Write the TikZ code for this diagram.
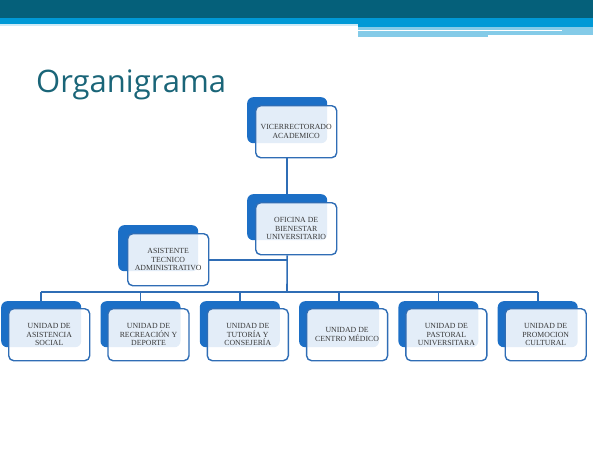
\documentclass[tikz,border=0pt]{standalone}
\usepackage{fontspec}
\setmainfont{Liberation Serif}
\newfontfamily\titlefont{Open Sans}
\definecolor{bandDark}{HTML}{05607A}
\definecolor{bandBlue}{HTML}{0099D6}
\definecolor{bandLight}{HTML}{84CBE8}
\definecolor{boxBlue}{HTML}{1C6FC6}
\definecolor{edgeBlue}{HTML}{2F6DB5}
\definecolor{titleTeal}{HTML}{1A6578}
\begin{document}
\begin{tikzpicture}[x=1pt, y=-1pt,
    backbox/.style={fill=boxBlue, rounded corners=6pt, minimum width=80pt, minimum height=46pt, anchor=north west, inner sep=0pt},
    frontbox/.style={draw=edgeBlue, line width=1.4pt, fill=white, fill opacity=0.88, text opacity=1, rounded corners=5pt,
      minimum width=81pt, minimum height=52pt, anchor=north west, inner sep=0pt, align=center,
      font=\fontsize{7.8}{8.5}\selectfont, text=black!78},
    link/.style={draw=edgeBlue, line width=1.6pt}]
  \useasboundingbox (0,0) rectangle (593,450);
  % header bands
  \fill[bandDark] (0,0) rectangle (593,18);
  \fill[bandBlue] (0,18) rectangle (593,24);
  \fill[bandBlue] (358,24) rectangle (593,27);
  \fill[bandLight] (358,27) rectangle (593,35);
  \fill[bandLight] (358,35) rectangle (488,37);
  \fill[bandLight!40] (0,24) rectangle (358,26);
  \draw[white, line width=0.8pt] (358,30) -- (562,30);
  \node[anchor=base west, inner sep=0pt, text=titleTeal, font=\titlefont\fontsize{31}{31}\selectfont] (title) at (36,92) {Organigrama};

  % upper levels
  \node[backbox] (vice-back) at (247,97) {};
  \node[frontbox] (vice) at (255,105) {VICERRECTORADO\\ACADEMICO};
  \node[backbox] (ofi-back) at (247,194) {};
  \node[frontbox] (ofi) at (255,202) {OFICINA DE\\BIENESTAR\\UNIVERSITARIO};
  \node[backbox] (asis-back) at (118,225) {};
  \node[frontbox] (asis) at (127,233) {ASISTENTE\\TECNICO\\ADMINISTRATIVO};

  % units
  \foreach \i/\name/\txt in {0/asoc/{UNIDAD DE\\ASISTENCIA\\SOCIAL},
      1/recr/{UNIDAD DE\\RECREACIÓN Y\\DEPORTE},
      2/tuto/{UNIDAD DE\\TUTORÍA Y\\CONSEJERÍA},
      3/medi/{UNIDAD DE\\CENTRO MÉDICO},
      4/past/{UNIDAD DE\\PASTORAL\\UNIVERSITARA},
      5/prom/{UNIDAD DE\\PROMOCION\\CULTURAL}} {
    \node[backbox] (\name-back) at (1+99.3*\i,301) {};
    \node[frontbox] (\name) at (8+99.3*\i,308) {\txt};
  }

  % connectors
  \coordinate (bus) at (287,292);
  \draw[link] (vice-back.south |- vice.south) -- (ofi-back.north);
  \draw[link] (ofi-back.south |- ofi.south) -- (bus);
  \draw[link] (asis.east) -- (asis.east -| bus);
  \draw[link] (bus -| asoc-back.north) -- (bus -| prom-back.north);
  \foreach \name in {asoc,recr,tuto,medi,past,prom}
    \draw[link] (bus -| \name-back.north) -- (\name-back.north);
\end{tikzpicture}
\end{document}
